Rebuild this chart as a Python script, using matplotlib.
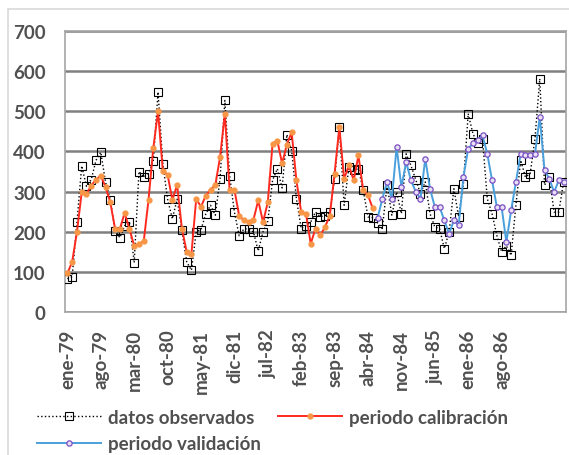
import numpy as np
import matplotlib.pyplot as plt
from matplotlib.lines import Line2D
from matplotlib.patches import Rectangle

plt.rcParams['font.family'] = ['Lato', 'DejaVu Sans']

# monthly values, ene-79 .. sep-87
obs = [83, 88, 223, 364, 313, 330, 378, 398, 323, 279,
       202, 185, 215, 225, 123, 350, 336, 345, 375, 548,
       369, 281, 232, 281, 204, 125, 104, 200, 205, 244,
       266, 241, 332, 527, 340, 249, 190, 207, 207, 199,
       152, 200, 226, 328, 357, 309, 442, 402, 282, 208,
       215, 224, 249, 237, 240, 249, 332, 461, 266, 361,
       353, 357, 303, 237, 235, 222, 208, 316, 241, 299,
       245, 394, 365, 330, 295, 324, 245, 212, 208, 158,
       199, 307, 237, 320, 494, 444, 420, 432, 282, 245,
       191, 150, 165, 141, 266, 378, 336, 345, 432, 581,
       316, 336, 249, 249, 325]

calib = [96, 125, 199, 298, 294, 315, 330, 340, 311, 273,
         207, 207, 247, 207, 165, 170, 176, 279, 408, 500,
         352, 342, 279, 317, 208, 150, 145, 282, 262, 290,
         305, 316, 386, 494, 303, 305, 240, 228, 225, 230,
         278, 224, 273, 419, 427, 370, 417, 448, 328, 249,
         245, 170, 208, 191, 212, 240, 345, 461, 332, 365,
         328, 390, 303, 291, 258]

valid = [233, 282, 324, 282, 411, 311, 374, 328, 300, 282,
         382, 307, 262, 262, 228, 195, 228, 216, 336, 407,
         420, 428, 440, 394, 328, 262, 262, 174, 253, 324,
         394, 390, 390, 394, 486, 353, 332, 299, 328, 325]

tick_labels = ['ene-79', 'ago-79', 'mar-80', 'oct-80', 'may-81', 'dic-81',
               'jul-82', 'feb-83', 'sep-83', 'abr-84', 'nov-84', 'jun-85',
               'ene-86', 'ago-86']

n = len(obs)
x_obs = np.arange(n)
x_cal = np.arange(len(calib))
x_val = np.arange(len(calib), len(calib) + len(valid))

txt = '#505050'
grid_c = '#808080'
fs = 13.5

fig = plt.figure(figsize=(5.69, 4.56), dpi=100)
fig.patches.append(Rectangle((8 / 569, -0.1), 1.2, (456 - 10) / 456 + 0.1,
                             transform=fig.transFigure, fill=False,
                             edgecolor='#d9d9d9', lw=1.2))
ax = fig.add_axes([65 / 569, 1 - 313 / 456, 501 / 569, 281 / 456])

obs_style = dict(color='black', ls=':', lw=1, marker='s', ms=5.5,
                 mfc='none', mec='black', mew=0.8)
cal_style = dict(color='#ff2a1f', lw=1.4, marker='o', ms=3.5,
                 mfc='#f79646', mec='#f79646')
val_style = dict(color='#4aa0dc', lw=1.4, marker='o', ms=3.8,
                 mfc='#e8e0f4', mec='#7a4fc4', mew=0.9)

ax.plot(x_obs, obs, zorder=3, **obs_style)
ax.plot(x_cal, calib, zorder=4, **cal_style)
ax.plot(x_val, valid, zorder=4, **val_style)

ax.set_xlim(-0.5, n - 0.5)
ax.set_ylim(0, 700)
ax.set_yticks(range(0, 701, 100))
ax.set_xticks(range(0, 7 * len(tick_labels), 7))
ax.set_xticklabels(tick_labels, rotation=90)
ax.grid(axis='y', color=grid_c, lw=1.8)
ax.set_axisbelow(True)
for s in ax.spines.values():
    s.set_color('#a6a6a6')
    s.set_linewidth(1.2)
ax.tick_params(length=0, colors=txt, labelsize=fs)
ax.tick_params(axis='y', pad=14)
ax.tick_params(axis='x', pad=12)
for lab in ax.get_xticklabels() + ax.get_yticklabels():
    lab.set_fontweight('bold')

# order gives rows: observados | calibracion, then validacion
handles = [Line2D([], [], **obs_style), Line2D([], [], **val_style),
           Line2D([], [], **cal_style)]
names = ['datos observados', 'periodo validación', 'periodo calibración']
leg = fig.legend(handles, names, loc='upper left', ncol=2,
                 bbox_to_anchor=(37 / 569, 1 - 410 / 456), frameon=False,
                 borderpad=0, borderaxespad=0,
                 handlelength=3.4, handletextpad=0.4, columnspacing=0.9,
                 labelspacing=0.5, prop={'weight': 'bold', 'size': fs})
for t in leg.get_texts():
    t.set_color(txt)

fig.savefig('out.png', dpi=100, facecolor='white')
